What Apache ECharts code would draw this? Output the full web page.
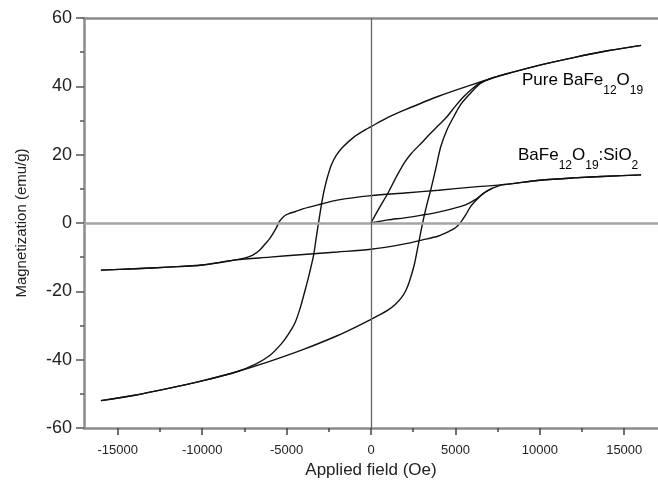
<!DOCTYPE html>
<html>
<head>
<meta charset="utf-8">
<script src="https://cdn.jsdelivr.net/npm/echarts@6/dist/echarts.min.js"></script>
<style>
  html, body { margin: 0; padding: 0; background: #fff; }
  #main { width: 658px; height: 485px; }
</style>
</head>
<body>
<div id="main"></div>
<script>
// 磁滞回线数据 [H (Oe), M (emu/g)]
var pureUpper = [[16000, 52], [14000, 50.4], [12000, 48.4], [10000, 46.2], [8000, 43.6], [6000, 40.5],
    [4000, 37.1], [2000, 33.1], [1000, 30.9], [0, 28.2], [-500, 26.8], [-1000, 25.2], [-1650, 22.3],
    [-2050, 19.9], [-2350, 17], [-2570, 13.6], [-2770, 9.7], [-2920, 5.8], [-3080, 0.9], [-3250, -4.5],
    [-3400, -9.4], [-3650, -14.8], [-3900, -19.6], [-4200, -25], [-4500, -29.2], [-4900, -32.6],
    [-5300, -35.3], [-6000, -38.8], [-6800, -41.2], [-8000, -43.6], [-10000, -46.2], [-12000, -48.4],
    [-14000, -50.4], [-16000, -52]];
var pureLower = [[-16000, -52], [-14000, -50.4], [-12000, -48.4], [-10000, -46.2], [-8000, -43.6],
    [-6000, -40.5], [-4000, -37], [-2000, -33], [-1000, -30.7], [0, -28.2], [500, -26.9], [1000, -25.5],
    [1400, -24], [1780, -22], [2050, -19.9], [2270, -17.2], [2560, -12.3], [2760, -7.4], [2955, -2.5],
    [3150, 2.1], [3350, 6.2], [3540, 9.7], [3850, 16.2], [4130, 22.3], [4500, 27.3], [4900, 31.1],
    [5300, 34.6], [5900, 38], [6500, 40.9], [7200, 42.5], [8000, 43.6], [10000, 46.2], [12000, 48.4],
    [14000, 50.4], [16000, 52]];
var pureInitial = [[0, 0], [500, 4.5], [1000, 8.7], [1500, 13.5], [2000, 17.8], [2400, 20.4],
    [3000, 23.5], [3500, 26.1], [4000, 28.6], [4500, 31.1], [5000, 34.2], [5500, 37], [6000, 39.3],
    [6500, 41.1], [7200, 42.5]];

var sioUpper = [[16000, 14.1], [14000, 13.7], [12000, 13.2], [10000, 12.5], [8000, 11.3], [6000, 10.5],
    [4000, 9.6], [2000, 8.8], [0, 8], [-2000, 6.7], [-3000, 5.5], [-4000, 4.2], [-4500, 3.3],
    [-4900, 2.7], [-5150, 2], [-5400, 0.6], [-5650, -1.8], [-6000, -4.6], [-6250, -6], [-6600, -8],
    [-7000, -9.4], [-7500, -10.3], [-8000, -10.8], [-10000, -12.3], [-12000, -12.9], [-14000, -13.4],
    [-16000, -13.8]];
var sioLower = [[-16000, -13.8], [-14000, -13.4], [-12000, -12.9], [-10000, -12.3], [-8000, -10.8],
    [-6000, -10], [-4000, -9.2], [-2000, -8.5], [0, -7.7], [2000, -6.1], [3000, -5], [4000, -3.8],
    [4600, -2.5], [5000, -1.4], [5300, 0.1], [5600, 2.3], [5900, 4.8], [6300, 7], [6700, 8.8],
    [7200, 10.2], [7700, 11.1], [8000, 11.3], [10000, 12.5], [12000, 13.2], [14000, 13.7], [16000, 14.1]];
var sioInitial = [[0, 0], [1000, 0.9], [2000, 1.5], [3000, 2.3], [4000, 3.2], [4900, 4.3],
    [5600, 5.3], [6200, 6.9], [6700, 8.8], [7200, 10.2]];

// 坐标轴刻度
var xTicks = [-15000, -10000, -5000, 0, 5000, 10000, 15000];
var xMinorTicks = [-12500, -7500, -2500, 2500, 7500, 12500];
var xName = 'Applied field (Oe)';
var yName = 'Magnetization (emu/g)';

var font = 'Liberation Sans';
var axisGray = '#8a8a8a';

function curve(data){
    return {
        type: 'line',
        data: data,
        showSymbol: false,
        smooth: 0.3,
        silent: true,
        lineStyle: { color: '#111', width: 1.4 }
    }
}

var series = [pureUpper, pureLower, pureInitial, sioUpper, sioLower, sioInitial].map(curve);
// 零线
series.push({
    type: 'line',
    data: [],
    markLine: {
        silent: true,
        symbol: ['none', 'none'],
        label: { show: false },
        data: [
            { yAxis: 0, lineStyle: { color: '#a5a5a5', width: 2.5, type: 'solid' } },
            { xAxis: 0, lineStyle: { color: '#666', width: 1.3, type: 'solid' } }
        ]
    }
});

var chart = echarts.init(document.getElementById('main'));
chart.setOption({
    animation: false,
    grid: { left: 84, top: 18, width: 578, height: 410 },
    xAxis: [{
        type: 'value',
        position: 'bottom',
        min: -17000,
        max: 17000,
        name: xName,
        nameLocation: 'middle',
        nameGap: 28,
        nameTextStyle: { fontFamily: font, fontSize: 17, color: '#222' },
        axisLine: { show: true, onZero: false, lineStyle: { color: axisGray, width: 2.5 } },
        axisTick: { show: true, customValues: xTicks, length: 7, lineStyle: { color: '#444', width: 1.5 } },
        axisLabel: {
            customValues: xTicks, margin: 16, fontFamily: font, fontSize: 13, color: '#222',
            formatter: function(v){ return String(v); }
        },
        splitLine: { show: false }
    }, {
        type: 'value',
        position: 'bottom',
        min: -17000,
        max: 17000,
        axisLine: { show: false, onZero: false },
        axisTick: { show: true, customValues: xMinorTicks, length: 4, lineStyle: { color: '#444', width: 1.5 } },
        axisLabel: { show: false },
        splitLine: { show: false }
    }, {
        type: 'value',
        position: 'top',
        min: -17000,
        max: 17000,
        axisLine: { show: true, onZero: false, lineStyle: { color: axisGray, width: 2.5 } },
        axisTick: { show: false },
        axisLabel: { show: false },
        splitLine: { show: false }
    }],
    yAxis: {
        type: 'value',
        position: 'left',
        min: -60,
        max: 60,
        interval: 20,
        name: yName,
        nameLocation: 'middle',
        nameGap: 55,
        nameTextStyle: { fontFamily: font, fontSize: 15, color: '#222' },
        axisLine: { show: true, onZero: false, lineStyle: { color: axisGray, width: 2.5 } },
        axisTick: { show: true, length: 8, lineStyle: { color: '#555', width: 1.5 } },
        minorTick: { show: true, splitNumber: 2, length: 4, lineStyle: { color: '#555', width: 1.5 } },
        axisLabel: { margin: 12, fontFamily: font, fontSize: 18, color: '#222' },
        splitLine: { show: false }
    },
    graphic: [{
        type: 'text',
        left: 522,
        top: 72,
        silent: true,
        style: {
            text: '{a|Pure BaFe}{s|12}{a|O}{s|19}',
            rich: {
                a: { fontFamily: font, fontSize: 17, color: '#222', verticalAlign: 'bottom', padding: [0, 0, 8, 0] },
                s: { fontFamily: font, fontSize: 12, color: '#222', verticalAlign: 'bottom' }
            }
        }
    }, {
        type: 'text',
        left: 518,
        top: 147,
        silent: true,
        style: {
            text: '{a|BaFe}{s|12}{a|O}{s|19}{a|:SiO}{s|2}',
            rich: {
                a: { fontFamily: font, fontSize: 17, color: '#222', verticalAlign: 'bottom', padding: [0, 0, 8, 0] },
                s: { fontFamily: font, fontSize: 12, color: '#222', verticalAlign: 'bottom' }
            }
        }
    }],
    series: series
});
</script>
</body>
</html>
